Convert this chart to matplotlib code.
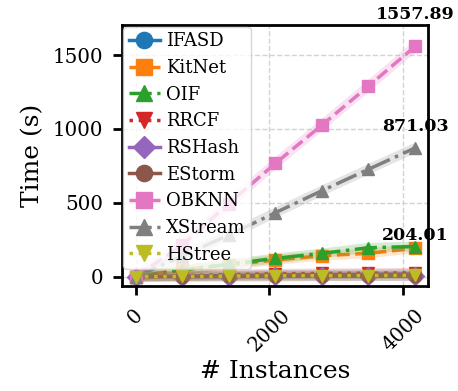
import matplotlib
matplotlib.use("Agg")
import matplotlib.pyplot as plt
import numpy as np

plt.rcParams['font.family'] = ['DejaVu Serif']

instances = [0, 697, 1394, 2091, 2788, 3485, 4182]
ifasd = [0, 4, 8, 12, 14, 16, 18]
kitnet = [0, 50, 80, 113, 142, 158, 192]
oif = [0, 45, 85, 124, 158, 196, 204.01]
rrcf = [0, 7, 14, 20, 22, 24, 26]
rshash = [0, 0.5, 1, 1.5, 2, 2.5, 3]
estorm = [0, 1, 2, 3, 4, 4, 5]
obknn = [0, 214, 495, 767, 1026, 1290, 1557.89]
xstream = [0, 140, 282, 433, 582, 727, 871.03]
hstree = [0, 2, 4, 6, 7, 8, 9]

names = ["IFASD", "KitNet", "OIF", "RRCF", "RSHash", "EStorm", "OBKNN", "XStream", "HStree"]
series = [ifasd, kitnet, oif, rrcf, rshash, estorm, obknn, xstream, hstree]
markers = ['o', 's', '^', 'v', 'D', 'o', 's', '^', 'v']
styles = ['-', '--', '-.', ':', '-', '-', '--', '-.', ':']
colors = plt.rcParams['axes.prop_cycle'].by_key()['color']
annot = [obknn, xstream, oif]

fig = plt.figure(figsize=(4.58, 3.91), dpi=100)
ax = fig.add_axes([0.2657, 0.2685, 0.6688, 0.6675])

for i, (n, s) in enumerate(zip(names, series)):
    c = colors[i % len(colors)]
    ax.plot(instances, s, color=c, linewidth=7, alpha=0.2, solid_capstyle='butt')
    ax.plot(instances, s, color=c, linestyle=styles[i], marker=markers[i],
            markersize=9, linewidth=2.5, label=n)

for s in annot:
    ax.text(instances[-1], s[-1] * 1.1, f"{s[-1]:.2f}", ha='center', va='bottom',
            fontsize=12.5, fontweight='bold', clip_on=False)

ax.set_xlim(-210, 4376)
ax.set_ylim(-63, 1703)
ax.set_xticks([0, 2000, 4000])
ax.set_yticks([0, 500, 1000, 1500])
ax.tick_params(axis='x', labelrotation=45, labelsize=14.3, width=2, length=6.5, pad=7.5)
ax.tick_params(axis='y', labelsize=14.3, width=2, length=6.5, pad=7)
ax.grid(True, linestyle='--', color='lightgray', linewidth=1)
for sp in ax.spines.values():
    sp.set_linewidth(2)
ax.set_xlabel("# Instances", fontsize=18, labelpad=4)
ax.set_ylabel("Time (s)", fontsize=18, labelpad=6)
ax.legend(loc='upper left', fontsize=13, labelspacing=0.48, handlelength=1.7,
          handletextpad=0.33, borderpad=0.3, borderaxespad=0.1, markerscale=1.3)

fig.savefig("out.png", dpi=100)
